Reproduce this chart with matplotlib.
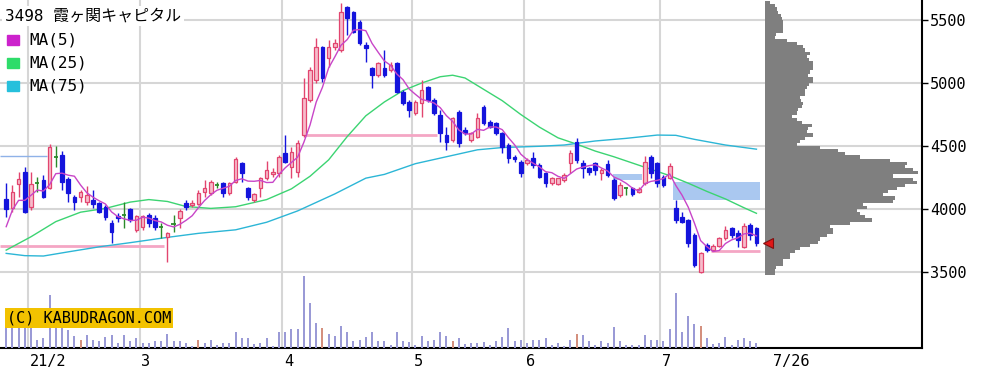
import numpy as np
import pandas as pd
import matplotlib
matplotlib.use("Agg")
import matplotlib.pyplot as plt
from matplotlib.patches import Rectangle

# --- daily OHLC, 2021-01-26 .. 2021-07-26 (3498 Kasumigaseki Capital) ---
holidays = ["2021-02-11", "2021-02-23", "2021-04-29", "2021-05-03", "2021-05-04",
            "2021-05-05", "2021-07-22", "2021-07-23"]
dates = pd.bdate_range("2021-01-26", "2021-07-26").drop(pd.to_datetime(holidays))

opens = [4077, 4005, 4198, 4296, 4018, 4204, 4230, 4164, 4415, 4429,
         4235, 4098, 4098, 4058, 4071, 4045, 4018, 3886, 3944, 3952,
         3997, 3833, 3854, 3952, 3926, 3860, 3775, 3878, 3926, 4045,
         4032, 4040, 4138, 4124, 4190, 4204, 4124, 4217, 4362, 4164,
         4071, 4164, 4243, 4275, 4283, 4447, 4336, 4296, 4587, 4865,
         5024, 5289, 5196, 5289, 5262, 5601, 5566, 5487, 5302, 5117,
         5064, 5117, 5103, 5156, 4931, 4852, 4759, 4839, 4966, 4865,
         4746, 4587, 4548, 4773, 4627, 4548, 4574, 4807, 4693, 4680,
         4606, 4508, 4410, 4376, 4362, 4402, 4349, 4283, 4204, 4199,
         4230, 4362, 4534, 4362, 4323, 4363, 4283, 4357, 4230, 4111,
         4164, 4164, 4138, 4204, 4416, 4363, 4257, 4244, 4005, 3934,
         3913, 3794, 3503, 3714, 3675, 3707, 3767, 3847, 3807, 3696,
         3873, 3847]
highs = [4209, 4190, 4296, 4336, 4296, 4257, 4270, 4516, 4500, 4463,
         4257, 4111, 4151, 4183, 4151, 4058, 4032, 3913, 3965, 4058,
         4005, 3952, 3952, 3965, 3952, 3886, 3820, 3952, 3997, 4071,
         4071, 4151, 4230, 4230, 4217, 4217, 4217, 4410, 4376, 4177,
         4124, 4257, 4381, 4323, 4429, 4587, 4495, 4548, 5037, 5130,
         5355, 5294, 5341, 5347, 5638, 5611, 5570, 5500, 5328, 5130,
         5170, 5262, 5170, 5170, 4944, 4865, 4865, 5024, 4976, 4880,
         4786, 4654, 4733, 4786, 4654, 4614, 4759, 4825, 4706, 4693,
         4614, 4521, 4429, 4389, 4402, 4455, 4362, 4296, 4257, 4250,
         4283, 4468, 4561, 4389, 4336, 4376, 4323, 4389, 4244, 4217,
         4177, 4177, 4177, 4421, 4429, 4376, 4270, 4363, 4072, 3979,
         3918, 3807, 3662, 3728, 3723, 3781, 3865, 3860, 3834, 3886,
         3886, 3855]
lows = [3939, 3979, 4098, 3965, 3992, 4137, 4085, 4156, 4336, 4151,
        4058, 3992, 4058, 4032, 4005, 3965, 3913, 3727, 3899, 3846,
        3899, 3820, 3833, 3860, 3833, 3767, 3582, 3820, 3846, 3992,
        4018, 4032, 4098, 4111, 4164, 4098, 4111, 4204, 4217, 4071,
        4058, 4098, 4230, 4257, 4257, 4362, 4243, 4257, 4574, 4852,
        4997, 5011, 5130, 5262, 5249, 5381, 5395, 5302, 5170, 4958,
        5050, 5050, 5090, 4918, 4826, 4733, 4746, 4733, 4852, 4746,
        4534, 4468, 4534, 4495, 4587, 4534, 4561, 4667, 4640, 4587,
        4442, 4362, 4370, 4257, 4349, 4323, 4243, 4177, 4190, 4190,
        4217, 4283, 4362, 4244, 4270, 4270, 4230, 4257, 4072, 4098,
        4111, 4103, 4125, 4191, 4244, 4178, 4178, 4236, 3892, 3887,
        3701, 3543, 3490, 3662, 3667, 3701, 3754, 3767, 3701, 3688,
        3754, 3707]
closes = [3997, 4137, 4235, 3979, 4198, 4204, 4098, 4489, 4415, 4217,
          4124, 4058, 4137, 4111, 4040, 3979, 3934, 3820, 3926, 3952,
          3913, 3944, 3944, 3886, 3854, 3860, 3812, 3878, 3987, 4013,
          4045, 4130, 4164, 4217, 4190, 4124, 4209, 4394, 4283, 4098,
          4117, 4243, 4310, 4291, 4415, 4376, 4455, 4521, 4878, 5103,
          5289, 5037, 5289, 5320, 5566, 5513, 5408, 5315, 5275, 5064,
          5156, 5064, 5143, 4931, 4839, 4786, 4852, 4945, 4865, 4759,
          4601, 4534, 4720, 4521, 4601, 4601, 4720, 4680, 4654, 4601,
          4495, 4402, 4394, 4283, 4389, 4349, 4257, 4204, 4243, 4243,
          4270, 4442, 4389, 4323, 4297, 4310, 4310, 4270, 4085, 4191,
          4164, 4119, 4156, 4376, 4283, 4204, 4191, 4342, 3913, 3900,
          3728, 3556, 3648, 3675, 3707, 3767, 3834, 3794, 3754, 3865,
          3794, 3727]
pre_closes = [3477, 3850, 3980, 3996]  # closes before the window, for MA(5)

volume = [180, 170, 190, 185, 175, 50, 60, 320, 120, 130,
          106, 74, 50, 78, 50, 40, 66, 78, 30, 78,
          40, 60, 30, 30, 40, 40, 86, 40, 40, 30,
          10, 50, 30, 50, 20, 30, 30, 94, 58, 58,
          24, 30, 58, 14, 98, 98, 114, 114, 430, 270,
          150, 120, 86, 74, 130, 94, 40, 50, 66, 94,
          40, 40, 20, 94, 40, 34, 20, 74, 40, 50,
          94, 74, 40, 58, 24, 30, 30, 34, 20, 40,
          66, 120, 40, 50, 30, 50, 50, 58, 20, 30,
          10, 50, 86, 78, 40, 20, 40, 30, 124, 40,
          20, 20, 20, 78, 50, 50, 40, 114, 330, 94,
          190, 144, 134, 58, 26, 30, 66, 20, 50, 58,
          40, 30]
vol_marked = [12, 31, 51, 72, 92, 112]

# longer moving averages
ma25_day = [0, 4, 8, 12, 16, 20, 23, 26, 29, 33, 37, 42, 46, 49, 52, 55, 58, 61, 64,
            67, 70, 72, 74, 77, 80, 83, 86, 89, 92, 95, 98, 101, 104, 107, 110, 113,
            116, 119, 121]
ma25_val = [3674, 3780, 3900, 3975, 4005, 4055, 4075, 4060, 4020, 4005, 4018, 4075,
            4160, 4260, 4390, 4575, 4740, 4850, 4940, 5000, 5050, 5062, 5040, 4950,
            4860, 4750, 4650, 4565, 4515, 4460, 4415, 4365, 4315, 4265, 4205, 4140,
            4080, 4010, 3966]
ma75_day = [0, 3, 6, 10, 15, 20, 26, 31, 37, 42, 47, 53, 58, 61, 66, 71, 76, 80, 86,
            90, 95, 100, 105, 108, 111, 116, 121]
ma75_val = [3648, 3630, 3627, 3660, 3700, 3733, 3775, 3807, 3835, 3895, 3985, 4120,
            4245, 4275, 4360, 4415, 4470, 4488, 4498, 4508, 4540, 4561, 4587, 4585,
            4553, 4508, 4475]

# price lines and open windows (day from, day to, price)
line_from = [-1, -1, 48.2, 113.6]
line_to = [25.5, 6.6, 69.5, 121.6]
line_price = [3706, 4421, 4587, 3670]
line_color = ["#f4a6c4", "#8fb2e8", "#f4a6c4", "#f4a6c4"]
gap_from = [97.8, 107.6]
gap_to = [102.5, 121.6]
gap_low = [4228, 4072]
gap_high = [4280, 4217]

# volume by price (25-yen bins, lower edge)
vp_price = list(range(3475, 5626, 25))
vp_vol = [30, 30, 33, 55, 55, 75, 75, 90, 105, 135,
          160, 165, 185, 205, 205, 195, 255, 320, 300, 285,
          275, 305, 295, 385, 390, 355, 370, 395, 420, 455,
          445, 385, 460, 445, 420, 425, 375, 285, 240, 220,
          165, 95, 105, 120, 145, 125, 130, 140, 110, 95,
          80, 95, 100, 110, 115, 107, 105, 120, 120, 127,
          133, 143, 145, 130, 135, 145, 145, 145, 133, 127,
          135, 120, 115, 95, 65, 30, 33, 55, 55, 55,
          55, 50, 47, 40, 35, 30, 15]

RED = "#e2456f"
PINK = "#f6bccb"
BLUE = "#1414dc"
GREEN = "#2a8a2a"
MONO = "DejaVu Sans Mono"

W, H = 981, 384
fig = plt.figure(figsize=(W / 100, H / 100), dpi=100)
ax = fig.add_axes([0, 36 / H, 922 / W, 348 / H])
ax_vol = ax.twinx()
ax_vp = ax.twiny()

x = np.arange(len(closes))
o, h, l, c = map(np.array, (opens, highs, lows, closes))
up, dn, dj = c > o, c < o, c == o

# grid
for k in range(1, len(dates)):
    if dates[k].month != dates[k - 1].month:
        ax.axvline(k - 0.5, color="#d6d6d6", lw=1.5, zorder=0)
ax.set_yticks([3500, 4000, 4500, 5000, 5500])
ax.grid(axis="y", color="#d6d6d6", lw=1.5, zorder=0)

# lines / gaps
for a, b, p, col in zip(line_from, line_to, line_price, line_color):
    ax.hlines(p, a, b, color=col, lw=2 if col != "#8fb2e8" else 1, zorder=1)
for a, b, lo, hi in zip(gap_from, gap_to, gap_low, gap_high):
    ax.add_patch(Rectangle((a, lo), b - a, hi - lo, color="#aac8f0", lw=0, zorder=1))

# candles
ax.vlines(x[up], l[up], h[up], color=RED, lw=1, zorder=3)
ax.bar(x[up], c[up] - o[up], bottom=o[up], width=0.6, facecolor=PINK,
       edgecolor=RED, lw=0.9, zorder=4)
ax.vlines(x[dn], l[dn], h[dn], color=BLUE, lw=1, zorder=3)
ax.bar(x[dn], o[dn] - c[dn], bottom=c[dn], width=0.6, color=BLUE,
       edgecolor=BLUE, lw=0.9, zorder=4)
ax.vlines(x[dj], l[dj], h[dj], color=GREEN, lw=1, zorder=3)
ax.hlines(o[dj], x[dj] - 0.35, x[dj] + 0.35, color=GREEN, lw=1.3, zorder=4)

# moving averages
ma5 = np.convolve(pre_closes + closes, np.ones(5) / 5, mode="valid")
ax.plot(x, ma5, color="#c845c8", lw=1, zorder=5)
ax.plot(ma25_day, ma25_val, color="#3cd472", lw=1, zorder=2)
ax.plot(ma75_day, ma75_val, color="#2cb6d6", lw=1, zorder=2)

ax.set_xlim(-1, 147.7)
ax.set_ylim(2897, 5659)

# volume
vcol = ["#d4907e" if k in vol_marked else "#9a9ad6" for k in x]
ax_vol.bar(x, volume, width=0.32, color=vcol)
ax_vol.set_ylim(0, 348 * 6)
ax_vol.yaxis.set_visible(False)

# volume profile
ax_vp.barh(vp_price, vp_vol, height=25, align="edge", color="#7f7f7f", lw=0)
ax_vp.plot([len(closes) + 0.9], [closes[-1]], marker="<", ms=7, mfc="#e01818",
           mec="#801010", mew=0.8, transform=ax.transData, zorder=6)
ax_vp.set_xlim(-765 * 3, 157 * 3)
ax_vp.xaxis.set_visible(False)

for a in (ax, ax_vol, ax_vp):
    for s in a.spines.values():
        s.set_visible(False)
ax.spines["right"].set_visible(True)
ax.spines["bottom"].set_visible(True)
ax.spines["right"].set_linewidth(1.5)
ax.spines["bottom"].set_linewidth(1.5)

ax.yaxis.tick_right()
ax.tick_params(axis="y", length=4, width=1, pad=2, labelsize=11, labelfontfamily=MONO)
ax.set_yticklabels([str(v) for v in [3500, 4000, 4500, 5000, 5500]])

month_pos = [k - 0.2 for k in range(1, len(dates)) if dates[k].month != dates[k - 1].month]
month_lab = ["21/2", "3", "4", "5", "6", "7"]
ax.set_xticks(month_pos + [len(closes) + 1.6])
ax.set_xticklabels(month_lab + [f"{dates[-1].month}/{dates[-1].day}"], ha="left")
ax.tick_params(axis="x", length=0, pad=4, labelsize=11, labelfontfamily=MONO)

# legend / title
fig.text(5 / W, 1 - 16 / H, "3498 霞ヶ関キャピタル", va="center", size=11.5,
         family=[MONO, "Noto Sans CJK JP"],
         bbox=dict(fc="white", ec="none", pad=2))
for k, (lab, col) in enumerate([("MA(5)", "#cc22cc"), ("MA(25)", "#2edc6a"),
                                ("MA(75)", "#26c0dc")]):
    yc = 40 + 23 * k
    fig.add_artist(Rectangle((7 / W, 1 - (yc + 5) / H), 12 / W, 10 / H,
                             transform=fig.transFigure, color=col))
    fig.text(29 / W, 1 - yc / H, lab, va="center", size=11.5, family=MONO)

fig.text(7 / W, 1 - 318 / H, "(C) KABUDRAGON.COM", va="center", size=11,
         family=MONO, bbox=dict(fc="#f2c200", ec="none", pad=1.5))

fig.savefig("out.png", dpi=100)
